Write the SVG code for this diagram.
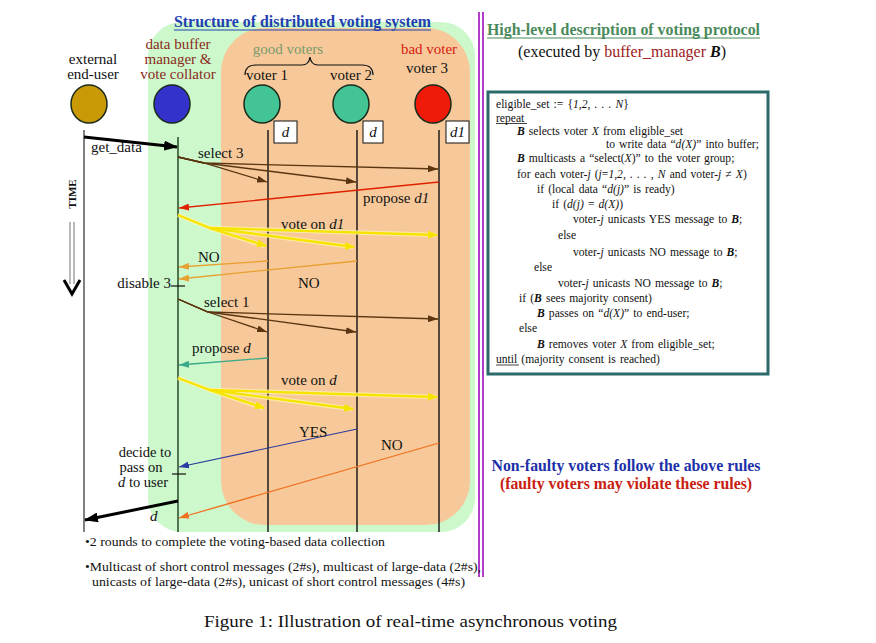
<svg xmlns="http://www.w3.org/2000/svg" width="876" height="643" viewBox="0 0 876 643">
<defs>
<style>
text{font-family:"Liberation Serif","Times New Roman",serif;fill:#111}
.lbl{font-size:15px}
.bx{font-size:11.6px;word-spacing:1.2px}
.it{font-style:italic}
.b{font-weight:bold}
.life{stroke:#111;stroke-width:1.4}
.node{stroke:#1a2a1a;stroke-width:1.5}
.brown{stroke:#5a3510;stroke-width:1.3;fill:none}
.yel{stroke:#f6e400;stroke-width:2.4;fill:none}
.yelh{stroke:#fff7b0;stroke-width:4.5;fill:none;opacity:0.7}
</style>
<marker id="mBrown" viewBox="0 0 10 7" refX="10" refY="3.5" markerWidth="10" markerHeight="7" markerUnits="userSpaceOnUse" orient="auto"><path d="M0,0L10,3.5L0,7z" fill="#5a3510"/></marker>
<marker id="mRed" viewBox="0 0 10 7" refX="10" refY="3.5" markerWidth="10" markerHeight="7" markerUnits="userSpaceOnUse" orient="auto"><path d="M0,0L10,3.5L0,7z" fill="#e02000"/></marker>
<marker id="mYel" viewBox="0 0 10 8" refX="9" refY="4" markerWidth="10" markerHeight="8" markerUnits="userSpaceOnUse" orient="auto"><path d="M0,0L10,4L0,8z" fill="#f6e400"/></marker>
<marker id="mOr" viewBox="0 0 10 7" refX="10" refY="3.5" markerWidth="10" markerHeight="7" markerUnits="userSpaceOnUse" orient="auto"><path d="M0,0L10,3.5L0,7z" fill="#e8a030"/></marker>
<marker id="mOr2" viewBox="0 0 10 7" refX="10" refY="3.5" markerWidth="10" markerHeight="7" markerUnits="userSpaceOnUse" orient="auto"><path d="M0,0L10,3.5L0,7z" fill="#f07020"/></marker>
<marker id="mTeal" viewBox="0 0 10 7" refX="10" refY="3.5" markerWidth="10" markerHeight="7" markerUnits="userSpaceOnUse" orient="auto"><path d="M0,0L10,3.5L0,7z" fill="#3aaa88"/></marker>
<marker id="mBlue" viewBox="0 0 10 7" refX="10" refY="3.5" markerWidth="10" markerHeight="7" markerUnits="userSpaceOnUse" orient="auto"><path d="M0,0L10,3.5L0,7z" fill="#2a3aa0"/></marker>
<marker id="mBlack" viewBox="0 0 14 10" refX="13" refY="5" markerWidth="14" markerHeight="10" markerUnits="userSpaceOnUse" orient="auto"><path d="M0,0L14,5L0,10z" fill="#000"/></marker>
</defs>
<rect width="876" height="643" fill="#fff"/>

<!-- backgrounds -->
<rect x="148" y="22" width="327" height="510" rx="34" fill="#ccf8cc"/>
<rect x="221" y="28" width="249" height="497" rx="44" fill="#f7c99a"/>

<!-- purple divider -->
<line x1="479" y1="12" x2="479" y2="577" stroke="#b03cc8" stroke-width="2"/>
<line x1="483" y1="12" x2="483" y2="577" stroke="#b03cc8" stroke-width="2"/>

<!-- title -->
<text x="174" y="27" font-size="16" class="b" style="fill:#2040b0" textLength="257" lengthAdjust="spacingAndGlyphs">Structure of distributed voting system</text>
<line x1="174" y1="30" x2="431" y2="30" stroke="#2040b0" stroke-width="1.2"/>

<!-- lifelines -->
<g id="lifelines">
<line x1="84" y1="130" x2="84" y2="532" stroke="#808080" stroke-width="2"/>
<line x1="178" y1="137" x2="178" y2="532" stroke="#1a3a1a" stroke-width="1.4"/>
<line class="life" x1="268" y1="130" x2="268" y2="532"/>
<line class="life" x1="357" y1="130" x2="357" y2="532"/>
<line class="life" x1="439" y1="130" x2="439" y2="532"/>
</g>

<!-- nodes -->
<g id="end-user">
<text x="93" y="64" class="lbl" text-anchor="middle">external</text>
<text x="93" y="79" class="lbl" text-anchor="middle">end-user</text>
<ellipse class="node" cx="89" cy="104" rx="18" ry="19" fill="#c99a06"/>
</g>
<g id="buffer-manager">
<text x="178" y="49" class="lbl" text-anchor="middle" style="fill:#8b2a1a">data buffer</text>
<text x="178" y="64" class="lbl" text-anchor="middle" style="fill:#8b2a1a">manager &amp;</text>
<text x="178" y="79" class="lbl" text-anchor="middle" style="fill:#8b2a1a">vote collator</text>
<ellipse class="node" cx="172" cy="104" rx="18" ry="19" fill="#3333cc"/>
</g>
<g id="good-voters-label">
<text x="288" y="54" class="lbl" text-anchor="middle" style="fill:#7a9a6a">good voters</text>
<path d="M245,75 Q245,65 256,65 L302,65 Q309,65 310,57 Q311,65 318,65 L362,65 Q373,65 373,75" fill="none" stroke="#111" stroke-width="1.2"/>
</g>
<g id="voter1">
<text x="267" y="80" class="lbl" text-anchor="middle">voter 1</text>
<ellipse class="node" cx="262" cy="104" rx="18" ry="19" fill="#42c495"/>
<rect x="274" y="121" width="23" height="22" fill="#fff" stroke="#111" stroke-width="1"/>
<text x="285.5" y="137" class="lbl it" text-anchor="middle">d</text>
</g>
<g id="voter2">
<text x="351" y="80" class="lbl" text-anchor="middle">voter 2</text>
<ellipse class="node" cx="351" cy="104" rx="18" ry="19" fill="#42c495"/>
<rect x="363" y="121" width="20" height="22" fill="#fff" stroke="#111" stroke-width="1"/>
<text x="373" y="137" class="lbl it" text-anchor="middle">d</text>
</g>
<g id="voter3">
<text x="429" y="54" class="lbl" text-anchor="middle" style="fill:#d82010">bad voter</text>
<text x="427" y="73" class="lbl" text-anchor="middle">voter 3</text>
<ellipse class="node" cx="433" cy="104" rx="18" ry="19" fill="#f01a0a"/>
<rect x="446" y="121" width="23" height="22" fill="#fff" stroke="#111" stroke-width="1"/>
<text x="457.5" y="137" class="lbl it" text-anchor="middle">d1</text>
</g>

<!-- TIME -->
<g id="time">
<text transform="translate(76,194) rotate(-90)" font-size="11" class="b" text-anchor="middle">TIME</text>
<line x1="70" y1="222" x2="70" y2="284" stroke="#8a8a8a" stroke-width="1.2"/>
<line x1="74" y1="222" x2="74" y2="284" stroke="#8a8a8a" stroke-width="1.2"/>
<polyline points="64,280 72,294 80,280" fill="none" stroke="#000" stroke-width="3"/>
</g>

<!-- connectors -->
<g id="connectors">
<line x1="84" y1="137" x2="177" y2="147" stroke="#000" stroke-width="3" marker-end="url(#mBlack)"/>
<polyline class="brown" points="178,157 204,163 438,169" marker-end="url(#mBrown)"/>
<polyline class="brown" points="178,157 204,163 267,182" marker-end="url(#mBrown)"/>
<polyline class="brown" points="178,157 204,163 356,182" marker-end="url(#mBrown)"/>
<line x1="439" y1="182" x2="179" y2="208" stroke="#e02000" stroke-width="1.3" marker-end="url(#mRed)"/>
<polyline class="yelh" points="178,215 210,228 436,235"/>
<polyline class="yelh" points="210,228 265,246"/>
<polyline class="yelh" points="210,228 353,247"/>
<polyline class="yel" points="178,215 210,228 437,235" marker-end="url(#mYel)"/>
<polyline class="yel" points="210,228 266,246" marker-end="url(#mYel)"/>
<polyline class="yel" points="210,228 354,247" marker-end="url(#mYel)"/>
<line x1="268" y1="261" x2="179" y2="267" stroke="#e8a030" stroke-width="1.3" marker-end="url(#mOr)"/>
<line x1="357" y1="261" x2="179" y2="279" stroke="#e8a030" stroke-width="1.3" marker-end="url(#mOr)"/>
<line x1="171" y1="286" x2="185" y2="286" stroke="#111" stroke-width="1.2"/>
<polyline class="brown" points="178,299 208,312 438,319" marker-end="url(#mBrown)"/>
<polyline class="brown" points="178,299 208,312 267,332" marker-end="url(#mBrown)"/>
<polyline class="brown" points="178,299 208,312 356,332" marker-end="url(#mBrown)"/>
<line x1="268" y1="358" x2="179" y2="365" stroke="#3aaa88" stroke-width="1.3" marker-end="url(#mTeal)"/>
<polyline class="yelh" points="178,378 210,390 436,397"/>
<polyline class="yelh" points="210,390 263,408"/>
<polyline class="yelh" points="210,390 352,409"/>
<polyline class="yel" points="178,378 210,390 437,397" marker-end="url(#mYel)"/>
<polyline class="yel" points="210,390 264,408" marker-end="url(#mYel)"/>
<polyline class="yel" points="210,390 353,409" marker-end="url(#mYel)"/>
<line x1="357" y1="429" x2="179" y2="467" stroke="#2a3aa0" stroke-width="1.2" marker-end="url(#mBlue)"/>
<line x1="439" y1="443" x2="179" y2="518" stroke="#f07020" stroke-width="1.3" marker-end="url(#mOr2)"/>
<line x1="172" y1="474" x2="186" y2="474" stroke="#111" stroke-width="1.2"/>
<line x1="178" y1="501" x2="85" y2="520" stroke="#000" stroke-width="3" marker-end="url(#mBlack)"/>
</g>

<!-- message labels -->
<g id="msg-labels">
<text x="91" y="152" class="lbl">get_data</text>
<text x="198" y="158" class="lbl">select 3</text>
<text x="363" y="203" class="lbl">propose <tspan class="it">d1</tspan></text>
<text x="281" y="229" class="lbl">vote on <tspan class="it">d1</tspan></text>
<text x="198" y="262" class="lbl">NO</text>
<text x="298" y="288" class="lbl">NO</text>
<text x="171" y="288" class="lbl" text-anchor="end">disable 3</text>
<text x="204" y="307" class="lbl">select 1</text>
<text x="192" y="353" class="lbl">propose <tspan class="it">d</tspan></text>
<text x="281" y="385" class="lbl">vote on <tspan class="it">d</tspan></text>
<text x="299" y="437" class="lbl">YES</text>
<text x="381" y="450" class="lbl">NO</text>
<text x="145" y="457" font-size="14.5" text-anchor="middle">decide to</text>
<text x="141" y="472" font-size="14.5" text-anchor="middle">pass on</text>
<text x="143" y="487" font-size="14.5" text-anchor="middle"><tspan class="it">d</tspan>  to user</text>
<text x="150" y="521" class="lbl it">d</text>
</g>

<!-- bottom notes -->
<text x="85" y="546" font-size="13.5" textLength="300" lengthAdjust="spacingAndGlyphs">•2 rounds to complete the voting-based data collection</text>
<text x="85" y="571" font-size="13" textLength="396" lengthAdjust="spacingAndGlyphs">•Multicast of short control messages (2#s), multicast of large-data (2#s),</text>
<text x="92" y="586" font-size="13" textLength="373" lengthAdjust="spacingAndGlyphs">unicasts of  large-data (2#s), unicast of short control messages (4#s)</text>

<!-- right side -->
<g id="protocol">
<text x="487" y="35" font-size="16" class="b" style="fill:#4a8a5a" textLength="273" lengthAdjust="spacingAndGlyphs">High-level description of voting protocol</text>
<line x1="487" y1="38" x2="760" y2="38" stroke="#4a8a5a" stroke-width="1.2"/>
<text x="622" y="57" font-size="16" text-anchor="middle">(executed by <tspan style="fill:#a02020">buffer_manager</tspan>  <tspan class="b it">B</tspan>)</text>
<rect x="488" y="92" width="280" height="282" fill="#fff" stroke="#2a6a6a" stroke-width="3"/>
<g>
<text x="496" y="108" class="bx">eligible_set  := {<tspan class="it">1,2, . . . N</tspan>}</text>
<text x="496" y="121.5" class="bx">repeat</text>
<line x1="496" y1="123.5" x2="527" y2="123.5" stroke="#111" stroke-width="0.8"/>
<text x="517" y="135" class="bx"><tspan class="b it">B</tspan> selects voter  <tspan class="it">X</tspan>  from eligible_set</text>
<text x="606" y="148" class="bx">to write data “<tspan class="it">d(X)</tspan>” into buffer;</text>
<text x="517" y="162" class="bx"><tspan class="b it">B</tspan> multicasts a “select(<tspan class="it">X</tspan>)” to the voter group;</text>
<text x="517" y="178" class="bx">for each voter-<tspan class="it">j</tspan>  (<tspan class="it">j</tspan>=<tspan class="it">1,2, . . . , N</tspan> and voter-<tspan class="it">j</tspan>  ≠  <tspan class="it">X</tspan>)</text>
<text x="537" y="193" class="bx">if  (local data  “<tspan class="it">d(j)</tspan>”  is ready)</text>
<text x="552" y="208" class="bx">if  (<tspan class="it">d(j)</tspan>  =  <tspan class="it">d(X)</tspan>)</text>
<text x="573" y="223" class="bx">voter-<tspan class="it">j</tspan> unicasts YES  message to <tspan class="b it">B</tspan>;</text>
<text x="558" y="239" class="bx">else</text>
<text x="573" y="256" class="bx">voter-<tspan class="it">j</tspan> unicasts  NO message to <tspan class="b it">B</tspan>;</text>
<text x="534" y="271" class="bx">else</text>
<text x="558" y="287" class="bx">voter-<tspan class="it">j</tspan> unicasts  NO message to <tspan class="b it">B</tspan>;</text>
<text x="519" y="302" class="bx">if  (<tspan class="b it">B</tspan> sees majority consent)</text>
<text x="537" y="317" class="bx"><tspan class="b it">B</tspan> passes on  “<tspan class="it">d(X)</tspan>”  to end-user;</text>
<text x="519" y="332" class="bx">else</text>
<text x="537" y="348" class="bx"><tspan class="b it">B</tspan> removes voter   <tspan class="it">X</tspan>  from eligible_set;</text>
<text x="496" y="363" class="bx">until  (majority consent is reached)</text>
<line x1="496" y1="365" x2="519" y2="365" stroke="#111" stroke-width="0.8"/>
</g>
<text x="626" y="471" font-size="15.8" class="b" text-anchor="middle" style="fill:#2030a8">Non-faulty voters follow the above rules</text>
<text x="626" y="489" font-size="15.8" class="b" text-anchor="middle" style="fill:#c82010">(faulty voters may violate these rules)</text>
</g>

<text x="204" y="627" font-size="17" textLength="413" lengthAdjust="spacingAndGlyphs">Figure 1: Illustration of real-time asynchronous voting</text>
</svg>
